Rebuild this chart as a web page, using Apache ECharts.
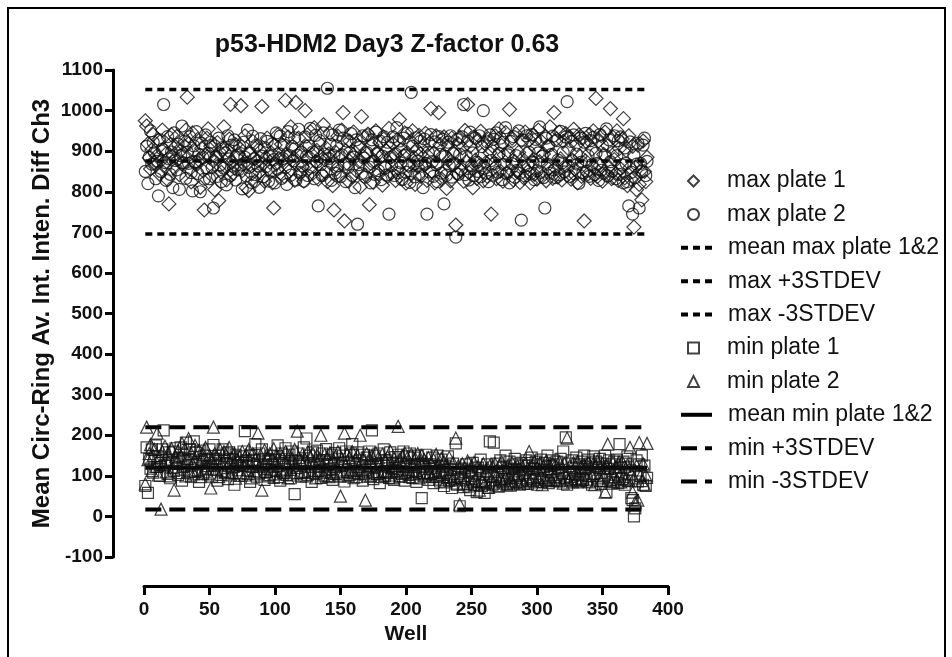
<!DOCTYPE html>
<html>
<head>
<meta charset="utf-8">
<script src="https://cdn.jsdelivr.net/npm/echarts@6/dist/echarts.min.js"></script>
<style>
html,body{margin:0;padding:0;background:#fff;}
#chart{width:952px;height:657px;}
</style>
</head>
<body>
<div id="chart"></div>
<script>
// ---- data ----
const chartTitle = "p53-HDM2 Day3 Z-factor 0.63";
const xTitle = "Well";
const yTitle = "Mean Circ-Ring Av. Int. Inten. Diff Ch3";
const firstWell = 1;
const lastWell = 384;

const maxPlate1 = [
975,962,918,884,856,903,941,872,865,890,928,843,877,952,905,861,894,830,770,916,940,887,859,911,
936,879,842,901,868,889,913,952,1033,918,856,824,945,902,871,866,929,878,811,907,852,755,889,932,
955,884,912,839,876,805,883,921,778,897,848,905,960,863,829,902,930,1015,872,845,858,916,884,893,
907,1012,852,869,938,810,871,803,895,844,924,882,826,910,876,848,900,1010,869,826,884,932,855,873,
896,822,760,915,868,940,882,846,917,877,838,1025,893,935,851,960,878,905,828,1020,867,932,844,900,
861,826,1000,912,883,857,948,892,846,958,874,902,831,919,886,842,965,879,908,825,893,944,868,815,
755,898,856,937,840,889,952,995,728,901,870,826,925,883,838,947,896,852,914,875,812,985,888,933,
841,895,942,768,870,915,823,876,950,898,844,921,887,816,930,862,901,838,956,884,847,919,893,828,
927,858,978,903,832,889,945,821,896,864,920,846,950,885,818,904,861,939,893,840,912,866,944,828,
887,920,1005,849,895,822,938,870,995,916,832,889,935,851,808,914,880,827,932,866,900,718,845,918,
935,852,908,826,951,874,1015,847,912,859,810,935,878,833,926,864,949,891,827,920,872,838,930,896,
745,913,857,938,832,889,955,851,914,826,891,946,848,900,1003,854,932,829,875,942,850,897,823,926,
881,834,947,895,850,928,822,876,940,843,909,831,952,874,925,838,893,937,827,912,856,960,889,833,
995,858,930,836,947,881,829,924,862,943,840,906,935,831,878,954,855,916,822,940,887,838,932,728,
876,922,844,941,833,905,950,858,1030,837,925,864,938,826,892,947,840,913,861,1005,832,934,879,845,
950,828,907,856,930,980,834,902,815,938,860,830,912,713,860,805,915,818,852,780,925,850,825,885
];
const maxPlate2 = [
850,912,820,885,950,868,922,896,832,875,790,928,850,905,1015,872,828,936,881,843,898,810,945,877,
854,917,806,889,962,871,925,833,898,870,936,847,802,913,874,948,845,892,800,919,884,831,940,858,
895,832,922,860,760,913,887,838,932,866,825,909,858,896,817,938,881,840,915,863,928,829,890,854,
913,866,807,922,885,839,952,860,896,823,937,881,842,915,864,811,931,888,837,909,862,924,826,887,
851,918,879,822,945,856,894,937,833,882,915,860,818,948,889,841,912,876,933,829,890,954,848,897,
864,826,935,887,840,913,956,861,898,832,939,874,765,926,867,840,945,893,849,1055,882,917,828,940,
889,846,913,864,952,837,891,932,868,825,925,860,896,943,841,885,810,928,720,867,910,845,938,883,
836,897,940,861,822,928,875,843,947,894,852,925,830,888,936,859,841,922,745,885,864,935,840,893,
958,847,925,871,830,932,890,848,944,866,823,1045,912,869,837,933,876,842,924,863,810,930,870,745,
897,849,941,874,838,923,867,825,936,892,846,929,770,887,841,922,865,938,836,894,870,688,929,843,
892,856,935,1015,842,888,925,829,947,864,896,840,932,873,850,938,837,911,1000,858,846,923,825,940,
877,841,929,870,945,848,894,932,830,922,867,958,845,891,822,924,869,936,836,889,853,950,846,730,
927,862,839,938,865,897,844,941,873,830,929,852,896,960,848,887,835,760,932,868,913,846,892,937,
854,835,926,878,842,949,871,897,849,935,1022,863,838,924,876,940,844,893,868,821,932,873,847,922,
944,851,889,838,926,867,934,842,895,870,828,941,853,913,846,890,955,839,928,874,851,897,938,832,
889,926,843,935,866,822,908,870,825,765,923,848,745,890,835,868,920,760,870,850,915,932,840,875
];
const minPlate1 = [
75,170,58,142,118,165,108,136,175,122,148,100,132,165,212,126,140,105,158,94,135,160,112,168,
130,102,145,170,88,138,125,182,108,142,166,98,133,185,110,157,128,85,162,138,105,150,116,140,
118,165,132,98,176,125,142,88,150,128,102,165,136,110,155,92,158,130,107,140,78,152,126,135,
100,148,125,160,210,138,105,132,85,150,122,140,178,98,130,155,108,165,126,90,142,110,136,102,
150,128,95,140,112,175,132,88,155,108,136,168,102,128,152,94,160,125,55,138,106,155,130,98,
135,170,110,192,102,150,126,85,158,130,105,162,112,138,95,155,128,108,166,100,135,115,152,90,
128,156,105,132,168,98,125,150,86,160,110,135,102,155,178,94,130,112,158,105,138,126,88,152,
108,145,98,160,124,212,92,150,128,105,155,82,132,110,165,100,138,125,95,158,108,130,90,146,
112,152,98,130,105,160,88,125,148,102,155,110,95,145,128,85,150,106,130,45,122,98,152,108,
90,128,105,145,82,120,98,150,112,86,140,108,75,125,95,148,88,115,70,130,92,180,78,115,
25,95,118,72,110,128,80,112,65,100,132,78,108,60,120,85,140,75,105,58,82,128,70,185,
100,78,182,86,130,110,74,138,88,120,92,150,80,113,135,76,117,95,142,84,128,100,78,132,
86,125,103,138,80,125,92,145,88,117,135,78,128,95,140,85,115,132,90,150,82,125,101,138,
128,90,135,103,86,142,107,160,94,195,78,130,105,88,138,120,92,145,84,128,103,135,90,150,
117,86,140,100,130,78,148,105,135,88,120,142,80,130,101,150,60,117,138,90,128,85,135,103,
140,82,178,120,92,135,78,130,148,88,115,45,40,0,20,138,86,128,100,150,78,125,75,95
];
const minPlate2 = [
80,220,140,155,177,113,150,165,123,205,102,145,18,160,127,173,110,153,133,100,167,120,65,147,
135,162,108,150,180,123,165,100,143,192,112,155,130,105,175,147,115,163,98,141,153,110,170,125,
105,150,70,137,220,155,116,145,98,165,130,112,160,108,150,125,170,102,145,123,155,94,141,115,
147,108,160,125,102,153,115,165,133,95,155,112,140,105,205,123,151,65,127,163,110,145,100,155,
115,143,167,105,150,125,98,155,112,145,108,160,127,95,150,116,143,102,165,120,210,145,108,137,
153,110,140,100,160,123,147,108,155,131,95,150,112,143,200,125,102,153,115,145,98,157,110,140,
106,147,123,160,102,50,143,110,205,127,153,100,145,115,160,108,140,98,150,123,200,112,143,105,
40,155,115,143,100,150,123,110,157,105,145,127,98,153,112,140,108,147,102,161,121,95,143,125,
110,222,140,100,150,123,157,108,145,115,98,153,127,105,143,112,155,95,135,150,108,140,102,133,
145,105,133,98,140,110,153,102,130,92,143,108,135,85,127,98,145,105,90,133,100,193,82,125,
30,95,130,80,120,90,137,75,115,125,85,133,95,78,123,65,117,88,130,80,113,120,72,125,
90,123,82,130,98,75,125,92,135,85,120,95,78,127,100,88,133,82,120,95,125,85,117,90,
123,82,130,95,117,160,88,125,98,135,85,120,92,130,100,78,123,95,137,88,117,125,90,130,
98,127,88,120,135,95,123,82,130,100,193,90,125,98,85,133,105,92,135,102,88,123,95,127,
120,92,133,85,123,100,130,78,125,137,95,120,88,130,100,60,125,178,95,120,82,133,98,123,
90,130,102,85,135,98,123,92,127,88,170,105,60,95,35,125,40,182,100,88,130,78,102,180
];
// reference lines
const meanMax = 876;
const maxPlus3SD = 1052;
const maxMinus3SD = 696;
const meanMin = 120;
const minPlus3SD = 220;
const minMinus3SD = 17;

const seriesNames = ["max plate 1","max plate 2","mean max plate 1&2","max +3STDEV","max -3STDEV",
  "min plate 1","min plate 2","mean min plate 1&2","min +3STDEV","min -3STDEV"];
const yTicks = {min:-100, max:1100, step:100};
const xTicks = {min:0, max:400, step:50};

// ---- chart ----
const chart = echarts.init(document.getElementById('chart'), null, {renderer:'canvas'});
const toPts = arr => arr.map((v,i)=>[i+1, v]);
const hLine = v => [[firstWell, v],[lastWell, v]];
const FONT = '"Liberation Sans", Arial, sans-serif';

function scatter(name, data, symbol, size){
  return {name, type:'scatter', data:toPts(data), symbol, symbolSize:size,
    itemStyle:{color:'rgba(0,0,0,0)', borderColor:'#111', borderWidth:1.2},
    emphasis:{disabled:true}, z:3};
}
function line(name, v, width, dash){
  return {name, type:'line', data:hLine(v), symbol:'none', showSymbol:false,
    lineStyle:{color:'#000', width, type:dash},
    itemStyle:{color:'rgba(0,0,0,0)', borderColor:'rgba(0,0,0,0)', borderWidth:0},
    emphasis:{disabled:true}, z:2};
}
const shortDash = [7,5];
const longDash = [16,8];

const rowStep = 33.4, firstRow = 181, txtH = 23;
function legendBlock(names, startIdx, isLine){
  const b = {orient:'vertical', left: isLine ? 679 : 687, padding:0,
    top: firstRow + startIdx*rowStep - txtH/2,
    itemWidth: isLine ? 31 : 11, itemHeight: 11, itemGap: rowStep - txtH,
    selectedMode:false,
    textStyle:{fontFamily:FONT, fontSize:23, color:'#111', lineHeight:txtH,
      padding:[0,0,0, isLine ? 11 : 23]},
    data:names};
  if (isLine) b.lineStyle = {width:4};
  return b;
}

chart.setOption({
  animation:false,
  backgroundColor:'#fff',
  title:{text:chartTitle, left:382, top:28, textAlign:'center',
    textStyle:{fontFamily:FONT, fontWeight:'bold', fontSize:25, color:'#111'}},
  grid:{left:144, right:284, top:70, bottom:100, containLabel:false},
  xAxis:{type:'value', min:xTicks.min, max:xTicks.max, interval:xTicks.step, offset:29,
    name:xTitle, nameLocation:'middle', nameGap:38,
    nameTextStyle:{fontFamily:FONT, fontWeight:'bold', fontSize:21, color:'#111'},
    axisLine:{show:true, onZero:false, lineStyle:{color:'#000', width:3}},
    axisTick:{show:true, length:9, lineStyle:{color:'#000', width:3}},
    axisLabel:{fontFamily:FONT, fontWeight:'bold', fontSize:19, color:'#111', margin:14,
      formatter:v=>String(v)},
    splitLine:{show:false}},
  yAxis:{type:'value', min:yTicks.min, max:yTicks.max, interval:yTicks.step, offset:31,
    name:yTitle, nameLocation:'middle', nameGap:59, nameRotate:90, nameMoveOverlap:false,
    nameTextStyle:{fontFamily:FONT, fontWeight:'bold', fontSize:24, color:'#111'},
    axisLine:{show:true, onZero:false, lineStyle:{color:'#000', width:3}},
    axisTick:{show:true, length:8, lineStyle:{color:'#000', width:3}},
    axisLabel:{fontFamily:FONT, fontWeight:'bold', fontSize:19, color:'#111', margin:10,
      formatter:v=>String(v)},
    splitLine:{show:false}},
  legend:[
    legendBlock(seriesNames.slice(0,2), 0, false),
    legendBlock(seriesNames.slice(2,5), 2, true),
    legendBlock(seriesNames.slice(5,7), 5, false),
    legendBlock(seriesNames.slice(7,10), 7, true)
  ],
  graphic:[{type:'rect', shape:{x:8, y:8, width:937, height:660},
    style:{fill:'none', stroke:'#000', lineWidth:2}, silent:true}],
  series:[
    scatter(seriesNames[0], maxPlate1, 'diamond', 14),
    scatter(seriesNames[1], maxPlate2, 'circle', 12),
    line(seriesNames[2], meanMax, 3.5, shortDash),
    line(seriesNames[3], maxPlus3SD, 3.5, shortDash),
    line(seriesNames[4], maxMinus3SD, 3.5, shortDash),
    scatter(seriesNames[5], minPlate1, 'rect', 11),
    scatter(seriesNames[6], minPlate2, 'triangle', 12),
    line(seriesNames[7], meanMin, 4, 'solid'),
    line(seriesNames[8], minPlus3SD, 4, longDash),
    line(seriesNames[9], minMinus3SD, 4, longDash)
  ]
});
</script>
</body>
</html>
